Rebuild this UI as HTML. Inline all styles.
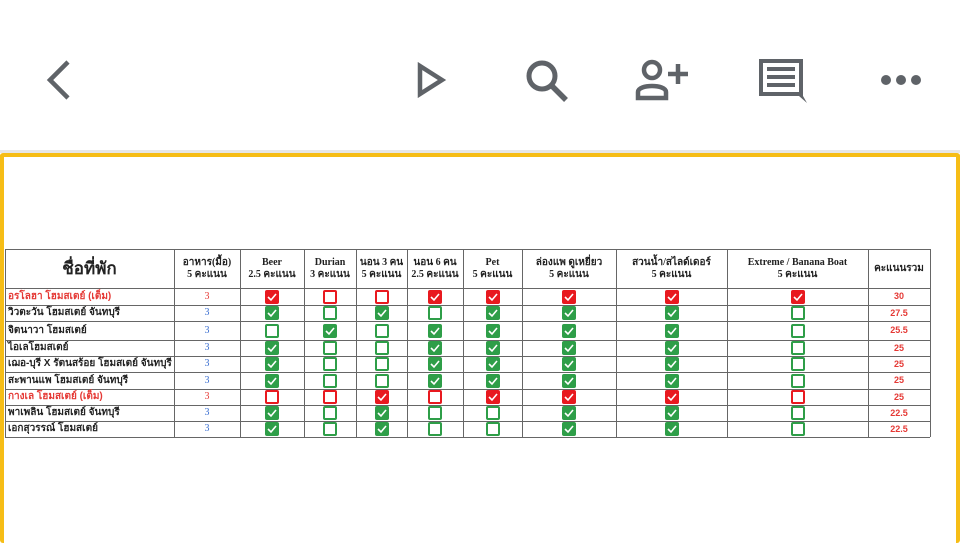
<!DOCTYPE html>
<html><head><meta charset="utf-8"><style>
body{margin:0;width:960px;height:539px;overflow:hidden;background:#fff;position:relative;font-family:"Liberation Serif","Noto Serif CJK SC",serif}
.ab{position:absolute}
svg.ic{position:absolute}
.cell{position:absolute;box-sizing:border-box;display:flex;align-items:center;justify-content:center;text-align:center;line-height:1.15;font-weight:bold;color:#222}
.cb{position:absolute;width:14px;height:14px;box-sizing:border-box;border-radius:2px}
</style></head><body>
<div class="ab" style="left:0;top:0;width:960px;height:150px;background:#fff"></div>
<svg class="ic" style="left:40px;top:58px" width="40" height="44"><polyline points="28,4 10,22 28,40" fill="none" stroke="#5f6368" stroke-width="4.5"/></svg>
<svg class="ic" style="left:414px;top:62px" width="34" height="36"><polygon points="6,4 28,18 6,32" fill="none" stroke="#5f6368" stroke-width="4.5" stroke-linejoin="miter"/></svg>
<svg class="ic" style="left:522px;top:56px" width="50" height="50"><circle cx="20" cy="20" r="13" fill="none" stroke="#5f6368" stroke-width="5"/><line x1="30" y1="30" x2="44" y2="44" stroke="#5f6368" stroke-width="5.5"/></svg>
<svg class="ic" style="left:634px;top:58px" width="60" height="44"><circle cx="18" cy="12" r="8" fill="none" stroke="#5f6368" stroke-width="4.5"/><path d="M4,40 V34 C4,26 32,26 32,34 V40 Z" fill="none" stroke="#5f6368" stroke-width="4.5"/><line x1="44" y1="6" x2="44" y2="26" stroke="#5f6368" stroke-width="4.5"/><line x1="34" y1="16" x2="54" y2="16" stroke="#5f6368" stroke-width="4.5"/></svg>
<svg class="ic" style="left:756px;top:56px" width="54" height="50"><path d="M3,3 H47 V40 L51,47 L43,40 H3 Z" fill="#5f6368"/><rect x="7" y="7" width="36" height="29" fill="#fff"/><rect x="11" y="11" width="28" height="4" fill="#5f6368"/><rect x="11" y="19" width="28" height="4" fill="#5f6368"/><rect x="11" y="27" width="28" height="4" fill="#5f6368"/></svg>
<svg class="ic" style="left:878px;top:70px" width="46" height="20"><circle cx="8" cy="10" r="5" fill="#5f6368"/><circle cx="23" cy="10" r="5" fill="#5f6368"/><circle cx="38" cy="10" r="5" fill="#5f6368"/></svg>
<div class="ab" style="left:0;top:150px;width:960px;height:3px;background:#e6e6e6"></div>
<div class="ab" style="left:0;top:153px;width:960px;height:390px;box-sizing:border-box;border:4px solid #f6bd16;border-bottom:none;border-radius:3px"></div>
<div id="tbl" class="ab" style="left:0;top:0"></div>
<script>
const colX=[5,174,240,304,356,407,463,522,616,727,868,930];
const rowY=[249,288,305,321,340,356,372,389,405,421,437];
const headers=["ชื่อที่พัก","อาหาร(มื้อ)<br>5 คะแนน","Beer<br>2.5 คะแนน","Durian<br>3 คะแนน","นอน 3 คน<br>5 คะแนน","นอน 6 คน<br>2.5 คะแนน","Pet<br>5 คะแนน","ล่องแพ ดูเหยี่ยว<br>5 คะแนน","สวนน้ำ/สไลด์เดอร์<br>5 คะแนน","Extreme / Banana Boat<br>5 คะแนน","คะแนนรวม"];
const names=["อรโลฮา โฮมสเตย์ (เต็ม)","วิวตะวัน โฮมสเตย์ จันทบุรี","จิตนาวา โฮมสเตย์","ไอเลโฮมสเตย์","เฌอ-บุรี X รัตนสร้อย โฮมสเตย์ จันทบุรี","สะพานแพ โฮมสเตย์ จันทบุรี","กางเล โฮมสเตย์ (เต็ม)","พาเพลิน โฮมสเตย์ จันทบุรี","เอกสุวรรณ์ โฮมสเตย์"];
const food=[3,3,3,3,3,3,3,3,3];
const totals=["30","27.5","25.5","25","25","25","25","22.5","22.5"];
const checks=["rRRrrrrr","gGgGgggG","GgGggggG","gGGggggG","gGGggggG","gGGggggG","RRrRrrrR","gGgGGggG","gGgGGggG"];
const fullRows=[0,6];
const T=document.getElementById('tbl');
function line(x,y,w,h){const d=document.createElement('div');d.className='ab';d.style.cssText=`left:${x}px;top:${y}px;width:${w}px;height:${h}px;background:#666`;


T.appendChild(d);}
rowY.forEach(y=>line(colX[0],y,colX[11]-colX[0],1));
colX.forEach(x=>line(x,rowY[0],1,rowY[10]-rowY[0]));
headers.forEach((h,i)=>{const d=document.createElement('div');d.className='cell';


d.style.cssText=`left:${colX[i]}px;top:${rowY[0]}px;width:${colX[i+1]-colX[i]}px;height:${rowY[1]-rowY[0]}px;font-size:${i==0?17:10}px;font-family:"Liberation Serif","Noto Sans CJK SC",serif`;
d.innerHTML=h;T.appendChild(d);});
names.forEach((n,r)=>{const y=rowY[r+1],h=rowY[r+2]-y,red=fullRows.includes(r);
const a=document.createElement('div');a.className='cell';


a.style.cssText=`left:${colX[0]+3}px;top:${y}px;width:${colX[1]-colX[0]-3}px;height:${h}px;justify-content:flex-start;font-size:10px;font-family:"Liberation Sans","Noto Sans CJK SC",sans-serif;color:${red?'#e53935':'#222'}`;
a.textContent=n;T.appendChild(a);
const f=document.createElement('div');f.className='cell';


f.style.cssText=`left:${colX[1]}px;top:${y}px;width:${colX[2]-colX[1]}px;height:${h}px;font-size:10px;font-weight:normal;color:${red?'#e53935':'#3b6fd1'}`;
f.textContent=food[r];T.appendChild(f);
checks[r].split('').forEach((c,k)=>{const cx=(colX[k+2]+colX[k+3])/2,cy=y+h/2;
const b=document.createElement('div');b.className='cb';


const col=(c=='r'||c=='R')?'#e8191f':'#2e9e48';const filled=(c=='r'||c=='g');
b.style.cssText=`left:${cx-7}px;top:${cy-7}px;`+(filled?`background:${col}`:`border:2px solid ${col};background:#fff`);
if(filled)b.innerHTML='<svg width="14" height="14"><polyline points="3,7 6,10 11,4" fill="none" stroke="#fff" stroke-width="1.6"/></svg>';
T.appendChild(b);});
const t=document.createElement('div');t.className='cell';


t.style.cssText=`left:${colX[10]}px;top:${y}px;width:${colX[11]-colX[10]}px;height:${h}px;font-size:9px;color:#e53935;font-family:"Liberation Sans",sans-serif`;
t.textContent=totals[r];T.appendChild(t);});
</script>
</body></html>
